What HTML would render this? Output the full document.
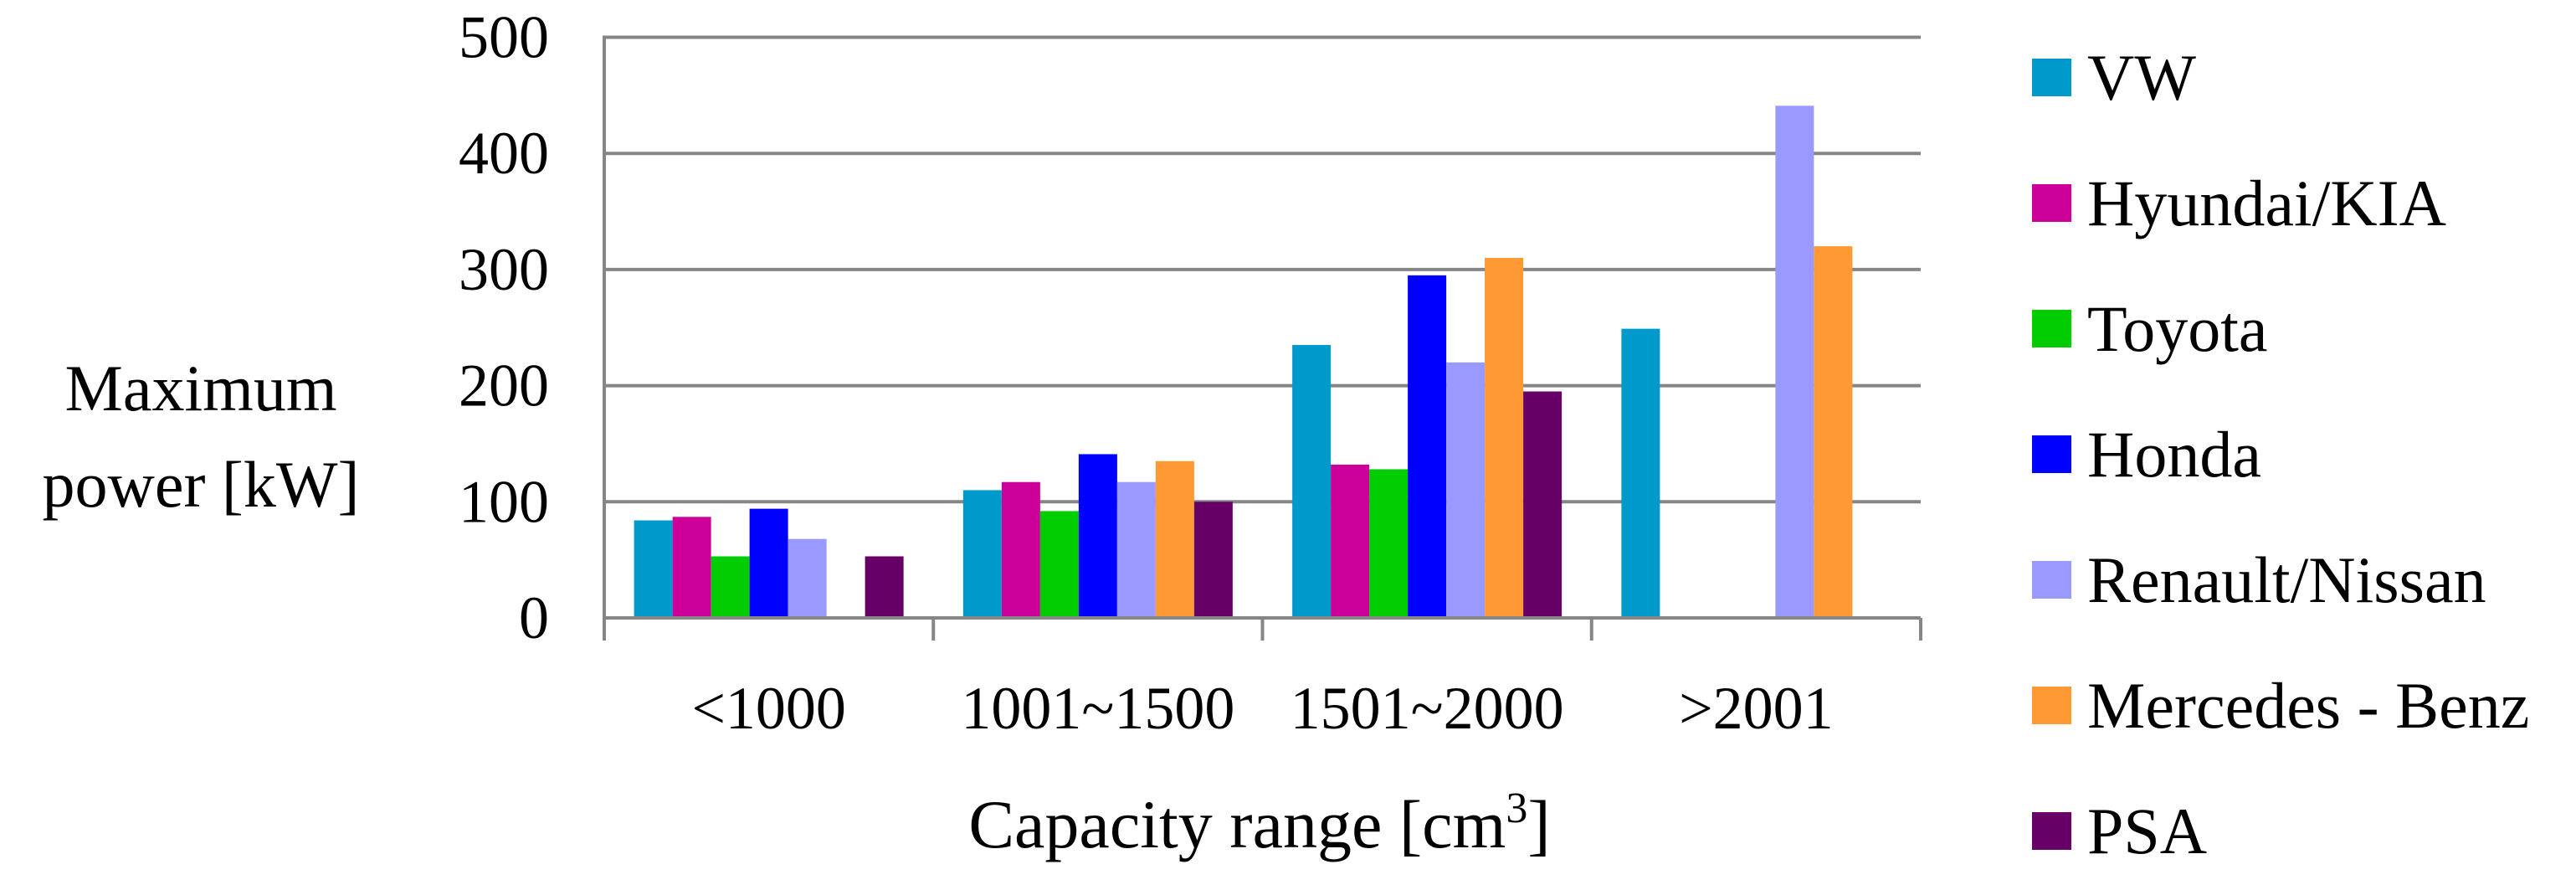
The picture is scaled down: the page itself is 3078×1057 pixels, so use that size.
<!DOCTYPE html>
<html><head><meta charset="utf-8"><style>
html,body{margin:0;padding:0;background:#fff;}
svg{display:block;font-family:"Liberation Serif",serif;}
</style></head><body>
<svg id="chart" width="3078" height="1057">
<g id="grid"></g><g id="bars"></g><g id="axes"></g><g id="legend"></g>
<text x="240" y="490" font-size="78" text-anchor="middle">Maximum</text>
<text x="240" y="605" font-size="78" text-anchor="middle">power [kW]</text>
<text x="1505" y="1012" font-size="82" text-anchor="middle">Capacity range [cm<tspan dy="-30" font-size="52">3</tspan><tspan dy="30">]</tspan></text>
</svg>
<script>
const categories = ["<1000","1001~1500","1501~2000",">2001"];
const seriesNames = ["VW","Hyundai/KIA","Toyota","Honda","Renault/Nissan","Mercedes - Benz","PSA"];
const seriesColors = ["#0099CC","#CC0099","#00CC00","#0000FF","#9999FF","#FF9933","#660066"];
const vw = [84,110,235,249];
const hyundai = [87,117,132,0];
const toyota = [53,92,128,0];
const honda = [94,141,295,0];
const renault = [68,117,220,441];
const mercedes = [0,135,310,320];
const psa = [53,100,195,0];
const yTicks = [0,100,200,300,400,500];

const series = [vw,hyundai,toyota,honda,renault,mercedes,psa];
const NS="http://www.w3.org/2000/svg";
const L=722,R=2295,T=44.5,B=738,yMax=500;
const catW=(R-L)/categories.length;
const barW=46;
const y=v=>B-(v/yMax)*(B-T);
const xCat=i=>L+i*catW;
function mk(tag,attrs,parent){const e=document.createElementNS(NS,tag);for(const k in attrs)e.setAttribute(k,attrs[k]);parent.appendChild(e);return e;}
const grid=document.getElementById('grid'),bars=document.getElementById('bars'),axes=document.getElementById('axes'),legend=document.getElementById('legend');
yTicks.forEach(t=>{
  if(t>0){const g=mk('line',{x1:L,x2:R,y1:y(t),y2:y(t),stroke:'#868686','stroke-width':4},grid);
  
  }
  const tx=mk('text',{x:656,y:y(t)+24,'font-size':72,'text-anchor':'end'},axes);tx.textContent=t;
  
  
});
const groupPad=(catW-barW*series.length)/2;
series.forEach((s,si)=>{
  s.forEach((v,ci)=>{
    if(v<=0)return;
    const r=mk('rect',{x:xCat(ci)+groupPad+si*barW,y:y(v),width:barW,height:B-y(v),fill:seriesColors[si]},bars);
    
    
  });
});
const yAx=mk('line',{x1:L,x2:L,y1:T-2,y2:B+27,stroke:'#868686','stroke-width':4},axes);


const xAx=mk('line',{x1:L,x2:R,y1:B,y2:B,stroke:'#868686','stroke-width':4},axes);


categories.forEach((c,i)=>{
  const tk=mk('line',{x1:xCat(i+1),x2:xCat(i+1),y1:B,y2:B+27,stroke:'#868686','stroke-width':4},axes);
  
  
  const tx=mk('text',{x:xCat(i)+catW/2,y:870,'font-size':72,'text-anchor':'middle'},axes);tx.textContent=c;
  
  
});
seriesNames.forEach((n,i)=>{
  const cy=93+i*150;
  const g=mk('g',{},legend);
  
  
  mk('rect',{x:2428,y:cy-23,width:47,height:45,fill:seriesColors[i]},g);
  const t=mk('text',{x:2494,y:cy+26,'font-size':78},g);t.textContent=n;
});
</script>
</body></html>
